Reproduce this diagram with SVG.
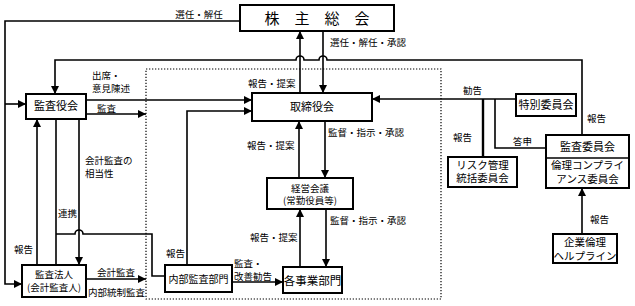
<svg xmlns="http://www.w3.org/2000/svg" width="635" height="306" viewBox="0 0 635 306">
<style>
.box{fill:#fff;stroke:#000;stroke-width:2}
.ln{fill:none;stroke:#000;stroke-width:1.6}
.ar{marker-end:url(#ah)}
.dot{fill:none;stroke:#000;stroke-width:1.2;stroke-dasharray:1.3 1.7}
text{font-family:"Noto Sans CJK JP","Noto Sans",sans-serif;fill:#000}
.lb{font-size:9.5px}
.nd{font-size:11px;text-anchor:middle}
.nm{font-size:10.5px;text-anchor:middle}
.ns{font-size:10px;text-anchor:middle}
</style>
<defs>
<marker id="ah" markerUnits="userSpaceOnUse" markerWidth="9" markerHeight="8" refX="8" refY="4" orient="auto">
<path d="M0,0 L8,4 L0,8 Z" fill="#000"/>
</marker>
</defs>
<rect x="0" y="0" width="635" height="306" fill="#fff"/>
<rect class="dot" x="146" y="69" width="295" height="230"/>
<g id="connectors">
<path class="ln ar" d="M240,21 H5 V284 H22"/>
<path class="ln ar" d="M5,104 H26"/>
<path class="ln ar" d="M300,93 V31"/>
<path class="ln ar" d="M323,31 V93"/>
<path class="ln ar" d="M582,135 V60 H327 A4,4 0 0 0 319,60 H304 A4,4 0 0 0 296,60 H55 V94"/>
<path class="ln ar" d="M86,100 H252"/>
<path class="ln ar" d="M86,114 H146"/>
<path class="ln ar" d="M187,265 V111 H252"/>
<path class="ln ar" d="M325,121 V178"/>
<path class="ln ar" d="M299,178 V121"/>
<path class="ln ar" d="M326,209 V267"/>
<path class="ln ar" d="M300,267 V209"/>
<path class="ln ar" d="M232,282 H283"/>
<path class="ln ar" d="M516,99 H372"/>
<path class="ln" style="stroke-width:2.4" d="M483,157 V99"/>
<path class="ln" d="M546,148 H495 V99"/>
<path class="ln ar" d="M582,234 V188"/>
<path class="ln ar" d="M37,265 V119"/>
<path class="ln" d="M56,119 V265"/>
<path class="ln ar" d="M79,119 V265"/>
<path class="ln" d="M56,234 H75 A4,4 0 0 1 83,234 H152 V276 H165"/>
<path class="ln ar" d="M86,279 H146"/>
</g>
<g id="labels">
<text class="lb" x="199" y="17.5" text-anchor="middle">選任・解任</text>
<text class="lb" x="330" y="45.5">選任・解任・承認</text>
<text class="lb" x="92" y="78.5">出席・</text>
<text class="lb" x="92" y="91.5">意見陳述</text>
<text class="lb" x="248" y="87">報告・提案</text>
<text class="lb" x="97" y="112">監査</text>
<text class="lb" x="463" y="94">勧告</text>
<text class="lb" x="453" y="140.5">報告</text>
<text class="lb" x="513" y="144.5">答申</text>
<text class="lb" x="587" y="121.5">報告</text>
<text class="lb" x="328" y="136">監督・指示・承認</text>
<text class="lb" x="247" y="148.5">報告・提案</text>
<text class="lb" x="85" y="164">会計監査の</text>
<text class="lb" x="85" y="177">相当性</text>
<text class="lb" x="58" y="216.5">連携</text>
<text class="lb" x="14" y="252.5">報告</text>
<text class="lb" x="166" y="256.5">報告</text>
<text class="lb" x="234" y="266.5">監査・</text>
<text class="lb" x="234" y="279.5">改善勧告</text>
<text class="lb" x="250" y="240.5">報告・提案</text>
<text class="lb" x="330" y="223.5">監督・指示・承認</text>
<text class="lb" x="590" y="222.5">報告</text>
<text class="lb" x="97" y="275.5">会計監査</text>
<text class="lb" x="88" y="296">内部統制監査</text>
</g>
<g id="n-kabunushi">
<rect class="box" x="240" y="5" width="154" height="26"/>
<text x="317" y="23.5" style="font-size:15px;text-anchor:middle">株　主　総　会</text>
</g>
<g id="n-kansayakukai">
<rect class="box" x="26" y="94" width="60" height="25"/>
<text class="nd" x="56" y="110">監査役会</text>
</g>
<g id="n-torishimariyakukai">
<rect class="box" x="252" y="93" width="120" height="28"/>
<text class="nd" x="312" y="111">取締役会</text>
</g>
<g id="n-tokubetsu">
<rect class="box" x="516" y="94" width="60" height="22"/>
<text class="nd" x="546" y="109">特別委員会</text>
</g>
<g id="n-risk">
<rect class="box" x="448" y="157" width="69" height="30"/>
<text class="nm" x="482.5" y="168.5">リスク管理</text>
<text class="nm" x="482.5" y="182">統括委員会</text>
</g>
<g id="n-kansaiinkai">
<rect class="box" x="546" y="135" width="83" height="53"/>
<line x1="546" y1="158" x2="629" y2="158" stroke="#000" stroke-width="1.5"/>
<text class="nd" x="587.5" y="151">監査委員会</text>
<text class="nm" x="587.5" y="169">倫理コンプライ</text>
<text class="nm" x="587.5" y="182.5">アンス委員会</text>
</g>
<g id="n-helpline">
<rect class="box" x="553" y="234" width="64" height="29"/>
<text class="nm" x="585" y="246">企業倫理</text>
<text class="nm" x="585" y="259.5">ヘルプライン</text>
</g>
<g id="n-keiei">
<rect class="box" x="267" y="178" width="86" height="31"/>
<text class="lb" x="310" y="191.5" text-anchor="middle">経営会議</text>
<text class="lb" x="310" y="204" text-anchor="middle">(常勤役員等)</text>
</g>
<g id="n-naibukansa">
<rect class="box" x="165" y="265" width="67" height="27"/>
<text class="ns" x="198.5" y="282.5">内部監査部門</text>
</g>
<g id="n-kakujigyo">
<rect class="box" x="283" y="267" width="59" height="26"/>
<text class="nd" x="312.5" y="284.5" style="font-size:11.5px">各事業部門</text>
</g>
<g id="n-kansahojin">
<rect class="box" x="22" y="265" width="64" height="32"/>
<text class="lb" x="54" y="277.5" text-anchor="middle">監査法人</text>
<text class="lb" x="54" y="291" text-anchor="middle">(会計監査人)</text>
</g>
</svg>
